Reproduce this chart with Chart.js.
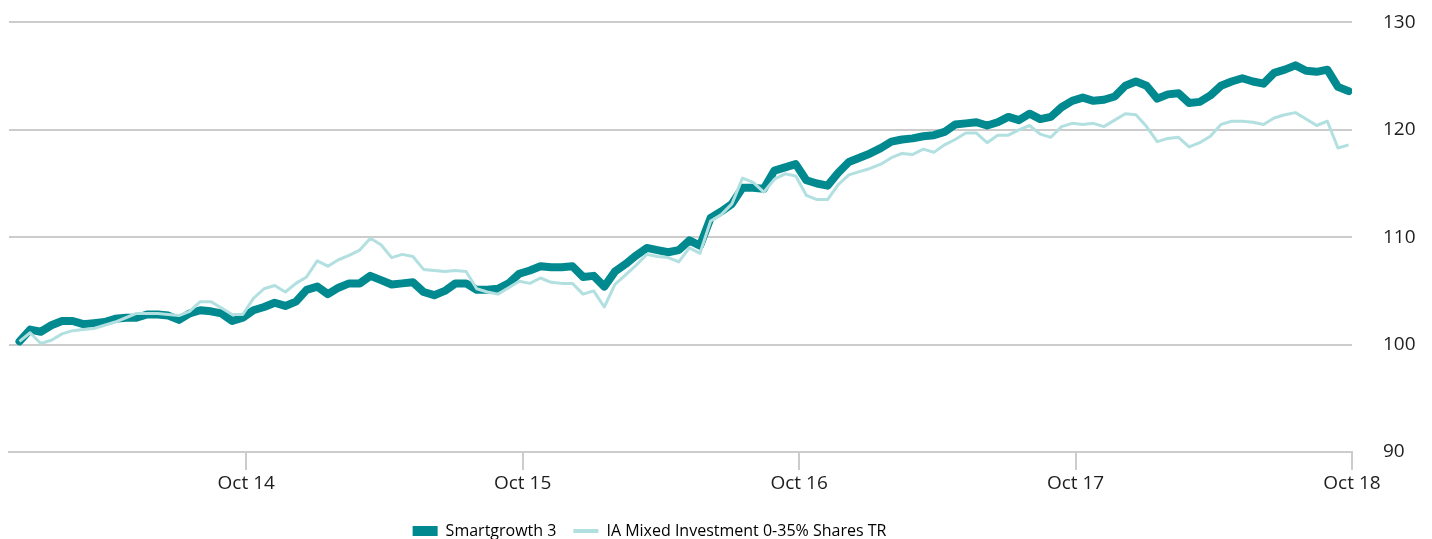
<!DOCTYPE html>
<html>
<head>
<meta charset="utf-8">
<script src="https://cdn.jsdelivr.net/npm/chart.js@4.4.1/dist/chart.umd.min.js"></script>
<style>
  html, body { margin: 0; padding: 0; background: #fff; overflow: hidden; }
  #perf { display: block; margin-top: -20px; }
</style>
</head>
<body>
<canvas id="perf" width="1432" height="569"></canvas>
<script>
// ======== Performance chart: Smartgrowth 3 vs sector ========

// Series sampled every two weeks, starting early Dec 2013 (x in decimal years)
const firstYear = 2013.93;
const stepYears = 1 / 26;

const smartgrowth = [
  100.3, 101.4, 101.2, 101.8, 102.2, 102.2, 101.9, 102.0, 102.1, 102.4,
  102.5, 102.5, 102.8, 102.8, 102.7, 102.3, 102.9, 103.2, 103.1, 102.9,
  102.2, 102.5, 103.2, 103.5, 103.9, 103.6, 104.0, 105.1, 105.4, 104.7,
  105.3, 105.7, 105.7, 106.4, 106.0, 105.6, 105.7, 105.8, 104.9, 104.6,
  105.0, 105.7, 105.7, 105.1, 105.1, 105.2, 105.7, 106.6, 106.9, 107.3,
  107.2, 107.2, 107.3, 106.3, 106.4, 105.4, 106.8, 107.5, 108.3, 109.0,
  108.8, 108.6, 108.8, 109.7, 109.2, 111.8, 112.4, 113.1, 114.6, 114.6,
  114.5, 116.2, 116.5, 116.8, 115.3, 115.0, 114.8, 116.0, 117.0, 117.4,
  117.8, 118.3, 118.9, 119.1, 119.2, 119.4, 119.5, 119.8, 120.5, 120.6,
  120.7, 120.4, 120.7, 121.2, 120.9, 121.5, 121.0, 121.2, 122.1, 122.7,
  123.0, 122.7, 122.8, 123.1, 124.1, 124.5, 124.1, 122.9, 123.3, 123.4,
  122.5, 122.6, 123.2, 124.1, 124.5, 124.8, 124.5, 124.3, 125.3, 125.6,
  126.0, 125.5, 125.4, 125.6, 124.0, 123.6
];

const sector = [
  100.3, 101.1, 100.1, 100.4, 101.0, 101.3, 101.4, 101.5, 101.8, 102.1,
  102.5, 102.9, 102.9, 102.9, 102.8, 102.7, 103.1, 104.0, 104.0, 103.4,
  102.8, 102.8, 104.3, 105.2, 105.5, 104.9, 105.7, 106.3, 107.8, 107.3,
  107.9, 108.3, 108.8, 109.9, 109.3, 108.1, 108.4, 108.2, 107.0, 106.9,
  106.8, 106.9, 106.8, 105.2, 104.9, 104.7, 105.3, 105.9, 105.7, 106.2,
  105.8, 105.7, 105.7, 104.7, 105.0, 103.5, 105.6, 106.5, 107.4, 108.4,
  108.2, 108.1, 107.7, 109.0, 108.5, 111.5, 112.1, 113.1, 115.5, 115.1,
  114.2, 115.4, 115.9, 115.7, 113.9, 113.5, 113.5, 114.9, 115.8, 116.1,
  116.4, 116.8, 117.4, 117.8, 117.7, 118.2, 117.9, 118.6, 119.1, 119.7,
  119.7, 118.8, 119.5, 119.5, 120.0, 120.4, 119.6, 119.3, 120.3, 120.6,
  120.5, 120.6, 120.3, 120.9, 121.5, 121.4, 120.3, 118.9, 119.2, 119.3,
  118.4, 118.8, 119.4, 120.5, 120.8, 120.8, 120.7, 120.5, 121.1, 121.4,
  121.6, 121.0, 120.4, 120.8, 118.3, 118.6
];

const seriesNames = ['Smartgrowth 3', 'IA Mixed Investment 0-35% Shares TR'];

// x axis: October of each year
const tickYears  = [2014.75, 2015.75, 2016.75, 2017.75, 2018.75];
const tickLabels = ['Oct 14', 'Oct 15', 'Oct 16', 'Oct 17', 'Oct 18'];
const xMin = 2013.892;
const xMax = 2018.75;

// y axis
const yMin = 90;
const yMax = 130;
const yStep = 10;

const COLORS = {
  dark:  '#00898f',
  light: '#b2dfe0',
  grid:  '#cccccc',
  ink:   '#1e1e1e'
};
const FONT = { family: "'Open Sans', 'Noto Sans', sans-serif", size: 19 };
const LEGEND_FONT = { family: "'Open Sans', 'Noto Sans', sans-serif", size: 16 };

const toPoints = vals => vals.map((v, i) => ({ x: firstYear + i * stepYears, y: v }));

// shift the legend so it sits where the original one was
const legendShift = {
  id: 'legendShift',
  afterLayout(chart) {
    if (chart.legend) { chart.legend.left -= 71; chart.legend.right -= 71; }
  }
};

new Chart(document.getElementById('perf'), {
  type: 'line',
  data: {
    datasets: [
      {
        label: seriesNames[0],
        data: toPoints(smartgrowth),
        borderColor: COLORS.dark,
        backgroundColor: COLORS.dark,
        borderWidth: 8,
        pointRadius: 0,
        tension: 0,
        borderJoinStyle: 'round',
        borderCapStyle: 'round',
        order: 2
      },
      {
        label: seriesNames[1],
        data: toPoints(sector),
        borderColor: COLORS.light,
        backgroundColor: COLORS.light,
        borderWidth: 3,
        pointRadius: 0,
        tension: 0,
        borderJoinStyle: 'round',
        order: 1
      }
    ]
  },
  plugins: [legendShift],
  options: {
    responsive: false,
    animation: false,
    layout: { padding: { left: 9, top: 0, right: 0, bottom: 0 } },
    plugins: {
      tooltip: { enabled: false },
      legend: {
        position: 'bottom',
        labels: {
          usePointStyle: true,
          pointStyleWidth: 25,
          boxHeight: 10,
          padding: 17,
          color: COLORS.ink,
          font: LEGEND_FONT,
          generateLabels: chart => chart.data.datasets.map((ds, i) => ({
            text: ds.label,
            strokeStyle: ds.borderColor,
            fillStyle: ds.borderColor,
            lineWidth: i === 0 ? 10 : 4,
            pointStyle: 'line',
            datasetIndex: i,
            hidden: false
          }))
        }
      }
    },
    scales: {
      x: {
        type: 'linear',
        min: xMin,
        max: xMax,
        afterBuildTicks: axis => { axis.ticks = tickYears.map(v => ({ value: v })); },
        afterFit: axis => { axis.height = 54; },
        ticks: {
          autoSkip: false,
          maxRotation: 0,
          padding: 2,
          color: COLORS.ink,
          font: FONT,
          callback: (v, i) => tickLabels[i]
        },
        grid: { drawOnChartArea: false, drawTicks: true, tickLength: 18, color: COLORS.grid, lineWidth: 2 },
        border: { display: true, color: COLORS.grid, width: 2 }
      },
      y: {
        position: 'right',
        min: yMin,
        max: yMax,
        afterFit: axis => { axis.width = 80; },
        ticks: { stepSize: yStep, padding: 31, color: COLORS.ink, font: FONT },
        grid: { drawTicks: false, color: COLORS.grid, lineWidth: 2 },
        border: { display: false }
      }
    }
  }
});
</script>
</body>
</html>
